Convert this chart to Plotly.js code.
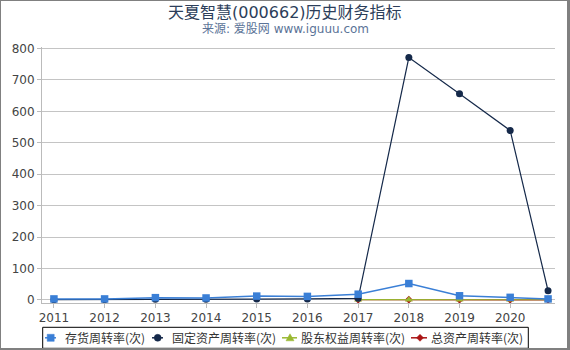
<!DOCTYPE html>
<html><head><meta charset="utf-8">
<script src="https://cdn.plot.ly/plotly-3.0.1.min.js"></script>
<style>
html,body{margin:0;padding:0;background:#fff;}
#wrap{width:570px;height:350px;position:relative;overflow:hidden;}
#chart{position:absolute;left:0;top:0;width:570px;height:350px;}
#frame{position:absolute;left:0;top:0;width:570px;height:350px;box-sizing:border-box;border-style:solid;border-color:#808080;border-width:1px 3px 2px 1px;pointer-events:none;z-index:10;}
</style></head>
<body><div id="wrap"><div id="chart"></div><div id="frame"></div></div>
<script>
const dates = ['2011-01-01','2012-01-01','2013-01-01','2014-01-01','2015-01-01','2016-01-01','2017-01-01','2018-01-01','2019-01-01','2020-01-01','2020-09-30'];
const tickYears = ['2011','2012','2013','2014','2015','2016','2017','2018','2019','2020'];
const inventoryTurnover = [3, 3, 7, 6, 12, 11, 18, 52, 13, 8, 3];
const fixedAssetTurnover = [0.5, 0.6, 2, 2, 3, 3, 5, 771.5, 656, 539.5, 29];
const equityTurnover = [null, null, null, null, null, null, 0.6, 0.7, 0.6, 0.5, 0.3];
const totalAssetTurnover = [null, null, null, null, null, null, 0.4, 0.5, 0.4, 0.3, 0.2];
const names = ['存货周转率(次)','固定资产周转率(次)','股东权益周转率(次)','总资产周转率(次)'];
const colors = ['#3a7fd6', '#15294a', '#99b830', '#aa1515'];

const F = 'DejaVu Sans, Noto Sans CJK SC, sans-serif';
const LF = 'Noto Sans CJK SC, DejaVu Sans, sans-serif';
const M = {l: 42, r: 15, t: 47, b: 47};
const W = 570, H = 350;
const pw = W - M.l - M.r, ph = H - M.t - M.b;
const px2x = px => (px - M.l) / pw;
const px2y = py => (H - M.b - py) / ph;

const traces = [
  {x: dates, y: totalAssetTurnover, name: names[3], mode: 'lines+markers', type: 'scatter',
   line: {color: colors[3], width: 1.2}, marker: {symbol: 'diamond', size: 6, color: colors[3]}},
  {x: dates, y: equityTurnover, name: names[2], mode: 'lines+markers', type: 'scatter',
   line: {color: colors[2], width: 1.2}, marker: {symbol: 'triangle-up', size: 7, color: colors[2]}},
  {x: dates, y: fixedAssetTurnover, name: names[1], mode: 'lines+markers', type: 'scatter',
   line: {color: colors[1], width: 1.2}, marker: {symbol: 'circle', size: 7, color: colors[1]}},
  {x: dates, y: inventoryTurnover, name: names[0], mode: 'lines+markers', type: 'scatter',
   line: {color: colors[0], width: 1.5}, marker: {symbol: 'square', size: 7.5, color: colors[0]}}
];

// custom legend (symbols as shapes, labels as annotations)
const legY = 337.8;
const legItems = [
  {line: [45, 56], mk: 50.7, tx: 64.3, sym: 'square'},
  {line: [152, 163], mk: 157.7, tx: 171.3, sym: 'circle'},
  {line: [282, 297], mk: 290, tx: 300, sym: 'triangle'},
  {line: [411, 427], mk: 420, tx: 430, sym: 'diamond'}
];
const shapes = [
  {type: 'rect', xref: 'paper', yref: 'paper', x0: px2x(42.7), x1: px2x(528.3), y0: px2y(348.3), y1: px2y(327.3),
   line: {color: '#000', width: 1}, fillcolor: 'rgba(255,255,255,0)'}
];
const annotations = [
  {text: '天夏智慧(000662)历史财务指标', xref: 'paper', yref: 'paper', x: px2x(285), y: px2y(12),
   xanchor: 'center', yanchor: 'middle', showarrow: false,
   font: {family: F, size: 16, color: '#2c3e5a'}},
  {text: '来源: 爱股网 www.iguuu.com', xref: 'paper', yref: 'paper', x: px2x(285), y: px2y(29),
   xanchor: 'center', yanchor: 'middle', showarrow: false,
   font: {family: F, size: 12, color: '#5b7397'}}
];
legItems.forEach((it, i) => {
  const c = colors[i];
  shapes.push({type: 'line', xref: 'paper', yref: 'paper', x0: px2x(it.line[0]), x1: px2x(it.line[1]),
    y0: px2y(legY), y1: px2y(legY), line: {color: c, width: 1.5}});
  const cx = it.mk, cy = legY;
  let s;
  if (it.sym === 'square') {
    s = {type: 'rect', x0: px2x(cx - 3.5), x1: px2x(cx + 3.5), y0: px2y(cy + 3.5), y1: px2y(cy - 3.5)};
  } else if (it.sym === 'circle') {
    s = {type: 'circle', x0: px2x(cx - 3.5), x1: px2x(cx + 3.5), y0: px2y(cy + 3.5), y1: px2y(cy - 3.5)};
  } else if (it.sym === 'triangle') {
    s = {type: 'path', path: `M ${px2x(cx - 4)} ${px2y(cy + 3)} L ${px2x(cx + 4)} ${px2y(cy + 3)} L ${px2x(cx)} ${px2y(cy - 4)} Z`};
  } else {
    s = {type: 'path', path: `M ${px2x(cx - 3.5)} ${px2y(cy)} L ${px2x(cx)} ${px2y(cy - 3.5)} L ${px2x(cx + 3.5)} ${px2y(cy)} L ${px2x(cx)} ${px2y(cy + 3.5)} Z`};
  }
  Object.assign(s, {xref: 'paper', yref: 'paper', fillcolor: c, line: {color: c, width: 0.5}});
  shapes.push(s);
  annotations.push({text: names[i], xref: 'paper', yref: 'paper', x: px2x(it.tx - 1.5), y: px2y(legY),
    xanchor: 'left', yanchor: 'middle', showarrow: false, font: {family: LF, size: 12, color: '#333'}});
});

const layout = {
  width: W, height: H,
  margin: M,
  paper_bgcolor: '#fff', plot_bgcolor: '#fff',
  font: {family: F, size: 12, color: '#444'},
  showlegend: false,
  xaxis: {type: 'date', range: ['2010-10-07', '2020-11-19'],
    tickvals: tickYears.map(y => y + '-01-01'), ticktext: tickYears,
    showgrid: false, showline: true, linecolor: '#bbb', linewidth: 1,
    ticks: 'outside', ticklen: 4, tickcolor: '#bbb', zeroline: false,
    tickfont: {family: F, size: 12, color: '#444'}},
  yaxis: {range: [-10, 805], tickvals: [0,100,200,300,400,500,600,700,800],
    showgrid: true, gridcolor: '#c4c4c4', gridwidth: 1, zeroline: false,
    showline: true, linecolor: '#bbb', ticks: 'outside', ticklen: 4, tickcolor: '#bbb',
    tickfont: {family: F, size: 12, color: '#444'}},
  shapes: shapes,
  annotations: annotations
};
Plotly.newPlot('chart', traces, layout, {displayModeBar: false, staticPlot: true});
</script></body></html>
